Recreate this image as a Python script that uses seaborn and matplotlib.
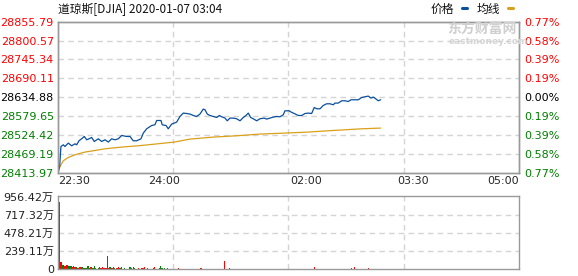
import numpy as np
import pandas as pd
import matplotlib
matplotlib.use("Agg")
import matplotlib.pyplot as plt
from matplotlib.lines import Line2D
import seaborn as sns

# ---------------- data ----------------
TITLE = "道琼斯[DJIA] 2020-01-07 03:04"
PREV_CLOSE = 28634.88

PRICE_TICKS = [28413.97, 28469.19, 28524.42, 28579.65, 28634.88,
               28690.11, 28745.34, 28800.57, 28855.79]
PCT_LABELS = ["0.77%", "0.58%", "0.39%", "0.19%", "0.00%",
              "0.19%", "0.39%", "0.58%", "0.77%"]

TIME_TICKS = [0, 90, 210, 300, 390]
TIME_LABELS = ["22:30", "24:00", "02:00", "03:30", "05:00"]

VOL_TICKS = [0, 239.11, 478.21, 717.32, 956.42]
VOL_LABELS = ["0", "239.11万", "478.21万", "717.32万", "956.42万"]

# price line (minutes after 22:30, index value)
PRICE_MIN = [0, 1.4, 2.5, 4.5, 5.9, 8.7, 11.6, 14.4, 15.8, 17.8, 20, 22.3, 24.3, 26.3,
             28.5, 30.7, 34.1, 37, 39.8, 42.6, 45.4, 48.2, 51, 53.9, 58.1, 60.9,
             63.7, 66.6, 70.2, 72.2, 75, 79.3, 82, 83.5, 87.1, 88.2, 91.4, 93.3,
             96.2, 98.4, 100.4, 103.2, 106, 108.9, 111.7, 114.5, 117.3, 120.1,
             122.9, 124.4, 126.3, 128.6, 131.4, 134.3, 136.5, 138.5, 141.3, 143.2,
             145.5, 148.3, 151.2, 154, 156.8, 159, 161, 163, 165.2, 168.1, 170.9,
             174.3, 176.6, 179.4, 182.1, 185, 187.8, 190.6, 192, 195.7, 196.3,
             199.1, 203.3, 206.2, 209, 211.8, 214.6, 216.8, 218.9, 221.7, 224.4,
             227.3, 230.1, 232.9, 234.3, 237.1, 240, 242.8, 245.6, 247.9, 251.3,
             254.1, 256.9, 259.7, 262.5, 264.8, 266.8, 268.8, 271, 273]
PRICE_VAL = [28415.5, 28432.7, 28491.1, 28496.1, 28491.0, 28501.0, 28493.1, 28499.0,
             28496.0, 28507.8, 28513.6, 28520.4, 28510.7, 28513.6, 28517.4, 28505.7,
             28513.6, 28505.7, 28510.7, 28504.0, 28513.6, 28510.7, 28513.6, 28523.3,
             28520.4, 28520.4, 28507.8, 28507.8, 28513.6, 28530.3, 28542.8, 28552.5,
             28554.5, 28567.1, 28567.1, 28554.5, 28552.5, 28542.8, 28556.6, 28559.5,
             28562.4, 28578.8, 28588.7, 28587.5, 28585.8, 28581.7, 28578.8, 28585.8,
             28600.4, 28598.4, 28585.8, 28581.7, 28578.8, 28575.9, 28581.7, 28577.9,
             28574.1, 28566.2, 28574.1, 28574.1, 28572.1, 28566.2, 28575.9, 28581.7,
             28588.7, 28575.9, 28572.1, 28566.2, 28572.1, 28574.1, 28571.2, 28574.1,
             28577.0, 28578.8, 28577.9, 28583.8, 28595.4, 28595.4, 28593.4, 28588.7,
             28581.7, 28581.7, 28587.5, 28588.7, 28587.5, 28605.1, 28601.3, 28601.3,
             28610.9, 28615.9, 28615.9, 28613.0, 28617.9, 28617.9, 28624.7, 28624.7,
             28622.6, 28627.6, 28627.6, 28627.6, 28634.3, 28636.3, 28638.4, 28632.5,
             28635.5, 28630.5, 28624.7, 28627.6]

# average line
AVG_MIN = [0.5, 1.7, 4.5, 8.7, 14.4, 22.8, 31.3, 39.8, 53.9, 67.9, 82.1, 98.4,
           111.7, 131.4, 151.2, 170.9, 192, 211.5, 228.4, 242.8, 256.9, 273]
AVG_VAL = [28418.0, 28432.7, 28449.3, 28459.0, 28466.9, 28474.8, 28479.4, 28484.4,
           28489.4, 28493.2, 28498.1, 28504.0, 28512.7, 28518.6, 28522.4, 28527.4,
           28530.3, 28533.2, 28537.0, 28539.9, 28542.8, 28544.9]

# volume per minute (万), minutes 1..274, and up(R)/down(G) colour
VOL = [890, 97, 97, 53, 53, 40, 65, 60, 50, 50,
       45, 30, 50, 35, 35, 30, 20, 35, 30, 28,
       28, 25, 20, 15, 45, 40, 20, 28, 15, 20,
       45, 15, 12, 20, 28, 15, 20, 35, 20, 15,
       20, 177, 20, 35, 15, 20, 35, 15, 12, 15,
       30, 25, 20, 28, 12, 15, 10, 12, 10, 12,
       28, 15, 12, 28, 20, 10, 12, 15, 10, 12,
       20, 15, 35, 12, 10, 20, 12, 10, 12, 10,
       20, 35, 12, 10, 12, 15, 45, 15, 10, 20,
       12, 10, 20, 8, 10, 6, 8, 12, 8, 6,
       8, 17, 10, 8, 6, 8, 10, 6, 8, 10,
       6, 8, 10, 8, 6, 8, 10, 8, 6, 10,
       20, 10, 8, 6, 8, 10, 6, 8, 8, 6,
       8, 6, 8, 10, 8, 6, 8, 10, 12, 10,
       110, 10, 8, 8, 15, 8, 6, 8, 10, 8,
       6, 8, 10, 8, 6, 8, 10, 6, 8, 8,
       6, 8, 10, 8, 6, 8, 10, 8, 6, 8,
       10, 8, 6, 8, 10, 8, 6, 8, 10, 8,
       6, 8, 10, 8, 6, 8, 10, 8, 6, 8,
       10, 8, 6, 8, 10, 8, 6, 8, 10, 8,
       6, 8, 10, 8, 6, 8, 10, 8, 6, 8,
       10, 8, 6, 8, 10, 8, 35, 8, 10, 8,
       6, 8, 10, 8, 6, 8, 10, 8, 6, 8,
       10, 8, 6, 8, 10, 8, 6, 8, 10, 8,
       6, 8, 10, 8, 6, 8, 8, 15, 8, 8,
       30, 8, 10, 8, 6, 8, 10, 8, 6, 8,
       10, 8, 15, 8, 6, 8, 10, 8, 6, 8,
       10, 8, 6, 8]
VOL_DIR = ("RRRGGRRRGG" "GRRRRGRRRG" "GGRGGGRRGG" "GRRGRRGRRG" "RRRGGRGGRR"
           "RRGGGGRRGG" "GGRGGRRRGG" "GRRGRRRGGR" "RRRGGGGGRG" "RRRGGGRRRG"
           "GRRRGGGRRG" "GGRRRGGGRR" "RRGGGRRRGG" "GRRRGGGRRR" "RRGGRRGGGR"
           "RRGGGRRRGG" "GRRRGGRRRG" "GGRRRGGRRR" "GGGRRRGGRR" "RGGGRRRGGG"
           "RRRGGRRRGG" "GRRRGRRGGG" "RRRGGGRRRG" "GGRRRGGGRR" "RGGRRRGRRG"
           "RRRGGGRRRG" "GRRRGGRRRG" "GRRR")
VOL_MIN = list(range(1, len(VOL) + 1))

# ---------------- style ----------------
RED = "#ff0000"
GREEN = "#008000"
BLUE = "#0a4f9e"
GOLD = "#dba01a"
GRID = "#d4d4d4"
SPINE = "#999999"
CJK = ["Noto Sans CJK SC", "DejaVu Sans"]

sns.set_theme(style="white")
plt.rcParams['font.family'] = ["DejaVu Sans", "Noto Sans CJK SC"]

fig = plt.figure(figsize=(5.78, 2.76), dpi=100)
ax = fig.add_axes([0.1003, 0.3736, 0.7976, 0.5478])
axv = fig.add_axes([0.1003, 0.0236, 0.7976, 0.2652])

price_df = pd.DataFrame({"t": PRICE_MIN, "p": PRICE_VAL})
avg_df = pd.DataFrame({"t": AVG_MIN, "p": AVG_VAL})

# grid
for a in (ax, axv):
    for xv in (97.5, 195, 292.5):
        a.axvline(xv, color=GRID, lw=1, ls=(0, (4, 3)), zorder=0)
for yv in PRICE_TICKS[1:-1]:
    ax.axhline(yv, color=GRID, lw=1, ls=(0, (4, 3)), zorder=0)
for yv in VOL_TICKS[1:-1]:
    axv.axhline(yv, color=GRID, lw=1, ls=(0, (4, 3)), zorder=0)

sns.lineplot(data=avg_df, x="t", y="p", ax=ax, color=GOLD, lw=0.9, estimator=None)
sns.lineplot(data=price_df, x="t", y="p", ax=ax, color=BLUE, lw=0.9, estimator=None)

ax.set_xlim(0, 390)
ax.set_ylim(PRICE_TICKS[0], PRICE_TICKS[-1])
ax.set_xlabel("")
ax.set_ylabel("")
ax.set_yticks(PRICE_TICKS)
ax.set_yticklabels([f"{v:.2f}" for v in PRICE_TICKS], fontsize=8)
for lbl, v in zip(ax.get_yticklabels(), PRICE_TICKS):
    lbl.set_color(RED if v > PREV_CLOSE + 0.01 else (GREEN if v < PREV_CLOSE - 0.01 else "#000000"))
ax.set_xticks(TIME_TICKS)
ax.set_xticklabels(TIME_LABELS, fontsize=8)
xl = ax.get_xticklabels()
xl[0].set_ha("left")
xl[-1].set_ha("right")
ax.tick_params(axis="both", length=0, pad=3)
ax.tick_params(axis="x", pad=2)

ax2 = ax.twinx()
ax2.set_ylim(PRICE_TICKS[0], PRICE_TICKS[-1])
ax2.set_yticks(PRICE_TICKS)
ax2.set_yticklabels(PCT_LABELS, fontsize=8)
for lbl, v in zip(ax2.get_yticklabels(), PRICE_TICKS):
    lbl.set_color(RED if v > PREV_CLOSE + 0.01 else (GREEN if v < PREV_CLOSE - 0.01 else "#000000"))
ax2.tick_params(axis="y", length=0, pad=4)

# volume bars
vcols = [RED if c == "R" else GREEN for c in VOL_DIR]
axv.bar(VOL_MIN, VOL, width=1.0, color=vcols, linewidth=0, zorder=2)
axv.set_xlim(0, 390)
axv.set_ylim(0, VOL_TICKS[-1] * 1.01)
axv.set_yticks(VOL_TICKS)
axv.set_yticklabels(VOL_LABELS, fontsize=8, color="#222222")
for lbl in axv.get_yticklabels():
    lbl.set_fontfamily(["DejaVu Sans", "Noto Sans CJK SC"])
axv.set_xticks([])
axv.tick_params(axis="y", length=0, pad=3)

for a in (ax, ax2, axv):
    for s in a.spines.values():
        s.set_color(SPINE)
        s.set_linewidth(1)

# watermark
fig.text(447 / 578, 1 - 29 / 276, "东方财富网", family=CJK, fontsize=10, fontweight="bold",
         color="#cfcfcf", va="center", ha="left", zorder=0)
fig.text(449 / 578, 1 - 41 / 276, "eastmoney.com", fontsize=6.5, fontweight="bold",
         color="#d5d5d5", va="center", ha="left", zorder=0)

# title and legend
fig.text(58 / 578, 1 - 9.5 / 276, TITLE, family=CJK, fontsize=8.5, color="#111111",
         va="center", ha="left")
fig.text(431 / 578, 1 - 9.5 / 276, "价格", family=CJK, fontsize=8.5, color="#111111",
         va="center", ha="left")
fig.add_artist(Line2D([461.5 / 578, 467 / 578], [1 - 8 / 276] * 2, color=BLUE, lw=2.2))
fig.text(477 / 578, 1 - 9.5 / 276, "均线", family=CJK, fontsize=8.5, color="#111111",
         va="center", ha="left")
fig.add_artist(Line2D([507.5 / 578, 513 / 578], [1 - 8 / 276] * 2, color=GOLD, lw=2.2))

fig.savefig("out.png", dpi=100)
